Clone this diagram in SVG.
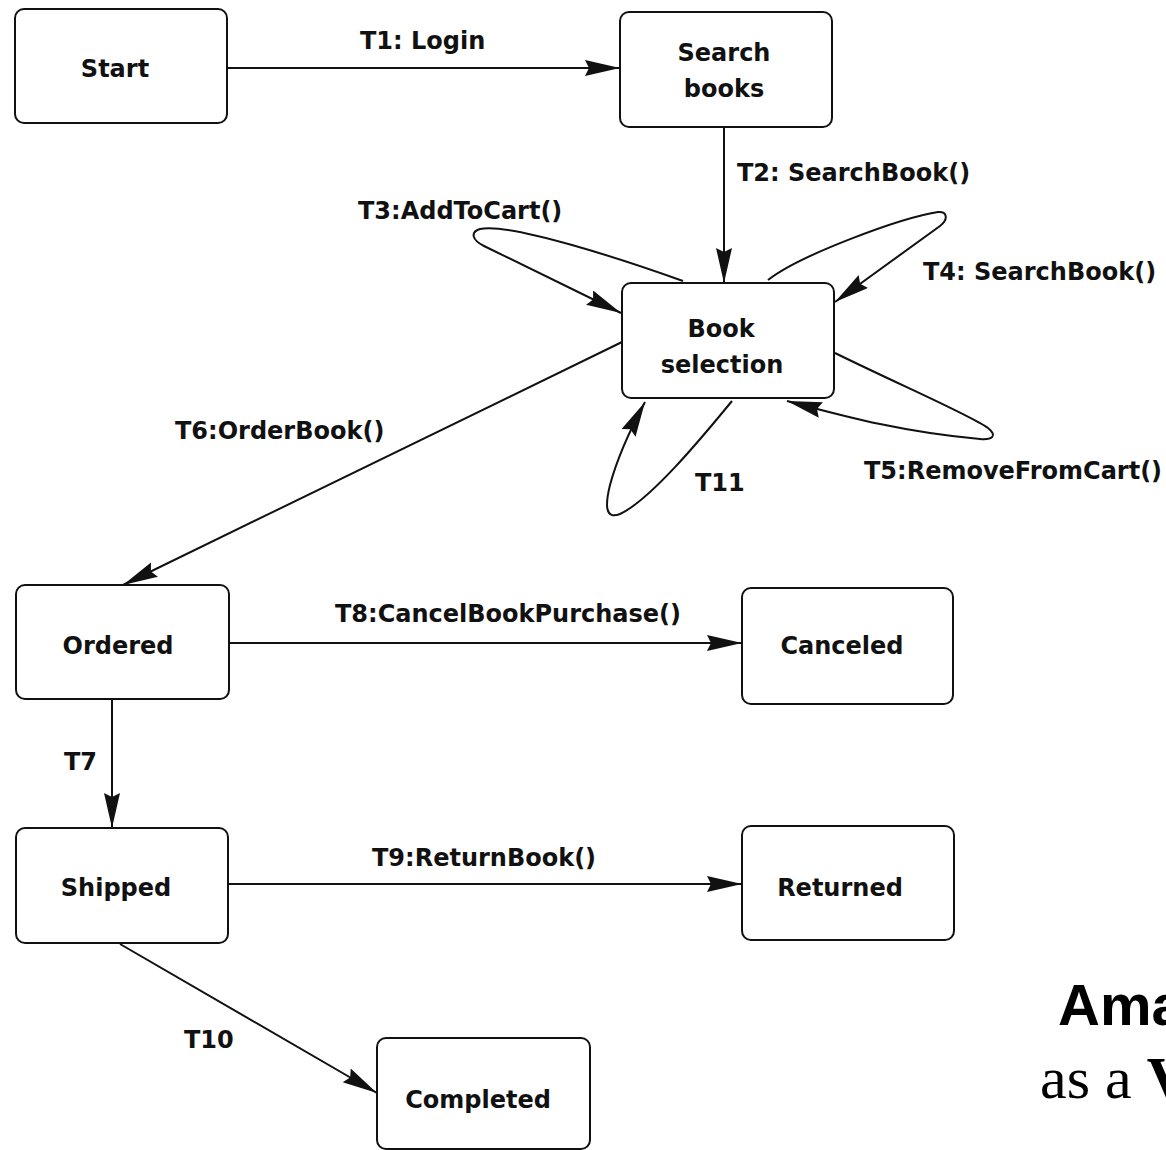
<svg xmlns="http://www.w3.org/2000/svg" width="1166" height="1150" viewBox="0 0 1166 1150">
  <style>
    .state { fill: #ffffff; stroke: #111111; stroke-width: 2; }
    .name { font-family: "DejaVu Sans", "Liberation Sans", sans-serif; font-weight: bold; font-size: 24px; fill: #111111; text-anchor: middle; }
    .lbl { font-family: "DejaVu Sans", "Liberation Sans", sans-serif; font-weight: bold; font-size: 24px; fill: #111111; }
    .edge { fill: none; stroke: #111111; stroke-width: 2; }
  </style>
  <defs>
    <marker id="arrow" markerUnits="userSpaceOnUse" markerWidth="38" markerHeight="18" refX="35" refY="8" orient="auto">
      <path d="M0,0 L35,8 L0,16 L4,8 z" fill="#111111"/>
    </marker>
  </defs>
  <rect width="1166" height="1150" fill="#ffffff"/>

  <!-- transitions -->
  <g id="connectors">
    <path id="t1" class="edge" d="M227,68 L620,68" marker-end="url(#arrow)"/>
    <path id="t2" class="edge" d="M724,127 L724,283" marker-end="url(#arrow)"/>
    <path id="t3" class="edge" d="M683,281 C630,262 510,222 480,229 C470,232 472,240 484,246 L621,313" marker-end="url(#arrow)"/>
    <path id="t4" class="edge" d="M768,280 C800,255 900,218 938,212 C948,211 948,220 940,226 L835,302" marker-end="url(#arrow)"/>
    <path id="t5" class="edge" d="M835,353 C900,385 970,415 988,428 C998,436 992,440 980,439 C900,432 840,415 787,401" marker-end="url(#arrow)"/>
    <path id="t6" class="edge" d="M622,342 L123,585" marker-end="url(#arrow)"/>
    <path id="t7" class="edge" d="M112,699 L112,828" marker-end="url(#arrow)"/>
    <path id="t8" class="edge" d="M229,643 L742,643" marker-end="url(#arrow)"/>
    <path id="t9" class="edge" d="M228,884 L742,884" marker-end="url(#arrow)"/>
    <path id="t10" class="edge" d="M120,944 L377,1093" marker-end="url(#arrow)"/>
    <path id="t11" class="edge" d="M732,401 C700,440 650,500 620,514 C605,520 605,505 610,485 C618,455 630,430 645,402" marker-end="url(#arrow)"/>

    <text class="lbl" x="360" y="49">T1: Login</text>
    <text class="lbl" x="737" y="181">T2: SearchBook()</text>
    <text class="lbl" x="358" y="219">T3:AddToCart()</text>
    <text class="lbl" x="923" y="280">T4: SearchBook()</text>
    <text class="lbl" x="864" y="479">T5:RemoveFromCart()</text>
    <text class="lbl" x="175" y="439">T6:OrderBook()</text>
    <text class="lbl" x="64" y="770">T7</text>
    <text class="lbl" x="335" y="622">T8:CancelBookPurchase()</text>
    <text class="lbl" x="372" y="866">T9:ReturnBook()</text>
    <text class="lbl" x="184" y="1048">T10</text>
    <text class="lbl" x="695" y="491">T11</text>
  </g>

  <!-- states -->
  <g id="start">
    <rect class="state" x="15" y="9" width="212" height="114" rx="9"/>
    <text class="name" x="115" y="77">Start</text>
  </g>
  <g id="search-books">
    <rect class="state" x="620" y="12" width="212" height="115" rx="9"/>
    <text class="name" x="724" y="61">Search</text>
    <text class="name" x="724" y="97">books</text>
  </g>
  <g id="book-selection">
    <rect class="state" x="622" y="283" width="212" height="115" rx="9"/>
    <text class="name" x="721" y="337">Book</text>
    <text class="name" x="722" y="373">selection</text>
  </g>
  <g id="ordered">
    <rect class="state" x="16" y="585" width="213" height="114" rx="9"/>
    <text class="name" x="118" y="654">Ordered</text>
  </g>
  <g id="canceled">
    <rect class="state" x="742" y="588" width="211" height="116" rx="9"/>
    <text class="name" x="842" y="654">Canceled</text>
  </g>
  <g id="shipped">
    <rect class="state" x="16" y="828" width="212" height="115" rx="9"/>
    <text class="name" x="116" y="896">Shipped</text>
  </g>
  <g id="returned">
    <rect class="state" x="742" y="826" width="212" height="114" rx="9"/>
    <text class="name" x="840" y="896">Returned</text>
  </g>
  <g id="completed">
    <rect class="state" x="377" y="1038" width="213" height="111" rx="9"/>
    <text class="name" x="478" y="1108">Completed</text>
  </g>

  <!-- caption running off the right edge -->
  <g id="caption">
    <text x="1058" y="1025" font-family="Liberation Sans, Arial, sans-serif" font-weight="bold" font-size="58" fill="#000000">Ama</text>
    <text x="1040" y="1098" font-family="Liberation Serif, Times New Roman, serif" font-size="60" fill="#000000">as a <tspan font-weight="bold">V</tspan></text>
  </g>
</svg>
